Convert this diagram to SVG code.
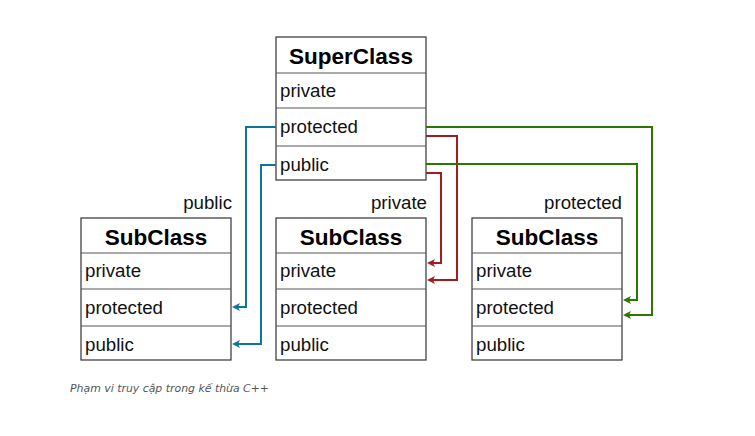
<svg xmlns="http://www.w3.org/2000/svg" width="755" height="436" viewBox="0 0 755 436">
<style>
.box{fill:#fff;stroke:#333;stroke-width:1.2}
.div{stroke:#555;stroke-width:1}
.hd{font-family:"Liberation Sans",Arial,sans-serif;font-weight:bold;font-size:22.5px;fill:#000;text-anchor:middle}
.row{font-family:"Liberation Sans",Arial,sans-serif;font-size:18.7px;fill:#111}
.lbl{font-family:"Liberation Sans",Arial,sans-serif;font-size:18.7px;fill:#111;text-anchor:end}
.cap{font-family:"DejaVu Sans",Verdana,sans-serif;font-style:italic;font-size:10.9px;fill:#555}
.c{fill:none;stroke-width:2}
</style>
<rect width="755" height="436" fill="#fff"/>
<g id="superclass">
<rect class="box" x="276" y="37" width="150" height="143"/>
<line class="div" x1="276" y1="73" x2="426" y2="73"/>
<line class="div" x1="276" y1="108" x2="426" y2="108"/>
<line class="div" x1="276" y1="146" x2="426" y2="146"/>
<text class="hd" x="351" y="64">SuperClass</text>
<text class="row" x="280" y="97">private</text>
<text class="row" x="280" y="133">protected</text>
<text class="row" x="280" y="171">public</text>
</g>
<g id="sub-public">
<text class="lbl" x="232" y="209">public</text>
<rect class="box" x="81" y="218" width="150" height="142"/>
<line class="div" x1="81" y1="253" x2="231" y2="253"/>
<line class="div" x1="81" y1="289" x2="231" y2="289"/>
<line class="div" x1="81" y1="326" x2="231" y2="326"/>
<text class="hd" x="156" y="245">SubClass</text>
<text class="row" x="85" y="277">private</text>
<text class="row" x="85" y="314">protected</text>
<text class="row" x="85" y="351">public</text>
</g>
<g id="sub-private">
<text class="lbl" x="427" y="209">private</text>
<rect class="box" x="276" y="218" width="150" height="142"/>
<line class="div" x1="276" y1="253" x2="426" y2="253"/>
<line class="div" x1="276" y1="289" x2="426" y2="289"/>
<line class="div" x1="276" y1="326" x2="426" y2="326"/>
<text class="hd" x="351" y="245">SubClass</text>
<text class="row" x="280" y="277">private</text>
<text class="row" x="280" y="314">protected</text>
<text class="row" x="280" y="351">public</text>
</g>
<g id="sub-protected">
<text class="lbl" x="622" y="209">protected</text>
<rect class="box" x="472" y="218" width="150" height="142"/>
<line class="div" x1="472" y1="253" x2="622" y2="253"/>
<line class="div" x1="472" y1="289" x2="622" y2="289"/>
<line class="div" x1="472" y1="326" x2="622" y2="326"/>
<text class="hd" x="547" y="245">SubClass</text>
<text class="row" x="476" y="277">private</text>
<text class="row" x="476" y="314">protected</text>
<text class="row" x="476" y="351">public</text>
</g>
<g id="connectors">
<path class="c" stroke="#10739E" d="M276,127 H246 V307 H238"/>
<path d="M232,307 L240,303 L238,307 L240,311 Z" fill="#10739E"/>
<path class="c" stroke="#10739E" d="M276,165 H261 V344 H238"/>
<path d="M232,344 L240,340 L238,344 L240,348 Z" fill="#10739E"/>
<path class="c" stroke="#A21E1E" d="M426,136 H457 V280 H433"/>
<path d="M427,280 L435,276 L433,280 L435,284 Z" fill="#A21E1E"/>
<path class="c" stroke="#A21E1E" d="M426,173 H441 V263 H433"/>
<path d="M427,263 L435,259 L433,263 L435,267 Z" fill="#A21E1E"/>
<path class="c" stroke="#2D7600" d="M426,127 H652 V315 H629"/>
<path d="M623,315 L631,311 L629,315 L631,319 Z" fill="#2D7600"/>
<path class="c" stroke="#2D7600" d="M426,164 H637 V300 H629"/>
<path d="M623,300 L631,296 L629,300 L631,304 Z" fill="#2D7600"/>
</g>
<text class="cap" x="70" y="392">Phạm vi truy cập trong kế thừa C++</text>
</svg>
